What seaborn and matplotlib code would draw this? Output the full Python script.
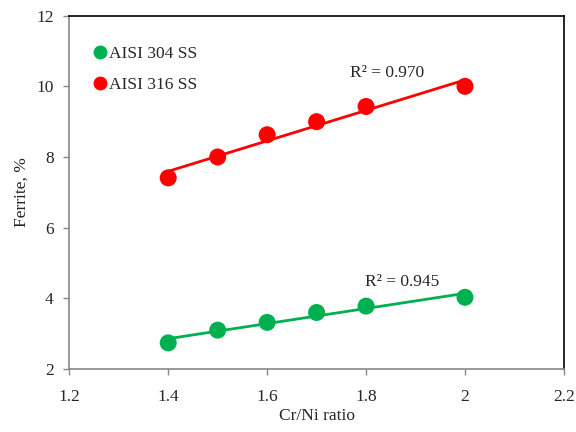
import numpy as np
import pandas as pd
import seaborn as sns
import matplotlib.pyplot as plt
from matplotlib.lines import Line2D

# data
cr_ni = [1.4, 1.5, 1.6, 1.7, 1.8, 2.0]
ferrite_304 = [2.74, 3.1, 3.32, 3.6, 3.78, 4.03]
ferrite_316 = [7.41, 8.0, 8.63, 9.0, 9.43, 10.0]
r2_304 = "R² = 0.945"
r2_316 = "R² = 0.970"
x_ticks = [1.2, 1.4, 1.6, 1.8, 2.0, 2.2]
x_labels = ["1.2", "1.4", "1.6", "1.8", "2", "2.2"]
y_ticks = [2, 4, 6, 8, 10, 12]

green = "#00b050"
red = "#ff0000"
fs = 12.5

sns.set_style("white")
plt.rcParams['font.family'] = ['Liberation Serif', 'DejaVu Serif']

fig = plt.figure(figsize=(5.76, 4.32), dpi=100)
ax = fig.add_axes([0.1203, 0.1458, 0.8587, 0.8179])

df304 = pd.DataFrame({"x": cr_ni, "y": ferrite_304})
df316 = pd.DataFrame({"x": cr_ni, "y": ferrite_316})

# linear trend lines
sns.regplot(data=df304, x="x", y="y", ax=ax, ci=None, scatter=False,
            line_kws={"color": green, "linewidth": 2})
sns.regplot(data=df316, x="x", y="y", ax=ax, ci=None, scatter=False,
            line_kws={"color": red, "linewidth": 2})
# points
sns.scatterplot(data=df304, x="x", y="y", ax=ax, color=green, s=150,
                edgecolor="none", zorder=3)
sns.scatterplot(data=df316, x="x", y="y", ax=ax, color=red, s=150,
                edgecolor="none", zorder=3)

ax.text(1.798, 4.46, r2_304, fontsize=fs, ha="left", va="center")
ax.text(1.767, 10.38, r2_316, fontsize=fs, ha="left", va="center")

ax.set_xlim(1.2, 2.2)
ax.set_ylim(2, 12)
ax.set_xticks(x_ticks)
ax.set_xticklabels(x_labels)
ax.set_yticks(y_ticks)
ax.tick_params(axis="both", direction="out", length=4.3, width=1, color="#888888",
               labelsize=fs, bottom=True, left=True)
ax.tick_params(axis="x", pad=10)
ax.tick_params(axis="y", pad=7)
ax.set_xlabel("Cr/Ni ratio", fontsize=fs, labelpad=2)
ax.set_ylabel("Ferrite, %", fontsize=fs, labelpad=5)

for side in ["left", "bottom"]:
    ax.spines[side].set_color("#888888")
for side in ["top", "right"]:
    ax.spines[side].set_color("black")
for s in ax.spines.values():
    s.set_linewidth(1.2)

handles = [Line2D([], [], marker="o", color=green, linestyle="none", markersize=9),
           Line2D([], [], marker="o", color=red, linestyle="none", markersize=9)]
ax.legend(handles, ["AISI 304 SS", "AISI 316 SS"], loc="upper left",
          bbox_to_anchor=(0.01, 0.96), frameon=False, fontsize=fs,
          handletextpad=-0.1, labelspacing=0.9, handlelength=1.2)

fig.savefig("out.png", dpi=100)
